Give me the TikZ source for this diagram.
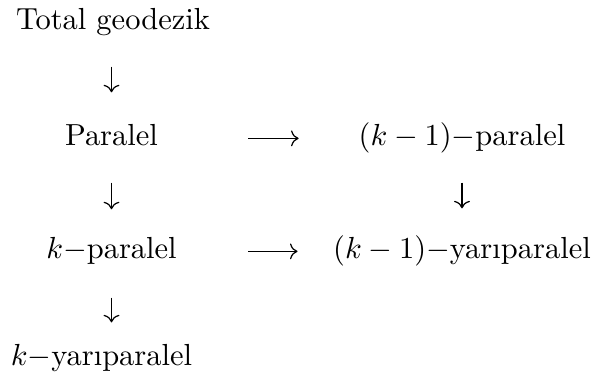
\documentclass[tikz,border=0pt]{standalone}
\usepackage{tikz}
\usetikzlibrary{arrows.meta}

\begin{document}
\begin{tikzpicture}[
    x=0.328pt, y=-0.328pt,
    >={Computer Modern Rightarrow},
    term/.style={anchor=base, inner sep=0pt, text height=7pt, text depth=2pt},
    arr/.style={->, line width=0.4pt},
]
    \useasboundingbox (0,0) rectangle (596,387);
    % left column
    \node[term] (tg) at (113,30) {Total geodezik};
    \node[term] (par) at (111.5,146) {Paralel};
    \node[term] (kpar) at (111.5,259) {$k-$paralel};
    \node[term] (kyp) at (101.5,366) {$k-$yar\i paralel};
    % right column
    \node[term] (kmpar) at (462,146) {$(k-1)-$paralel};
    \node[term] (kmyp) at (462,259) {$(k-1)-$yar\i paralel};

    \draw[arr, shorten <=9.8pt, shorten >=10.4pt] (tg.south -| par.north) -- (par.north);
    \draw[arr, shorten <=9.8pt, shorten >=9.1pt] (par.south) -- (par.south |- kpar.north);
    \draw[arr, shorten <=10.5pt, shorten >=7.1pt] (kpar.south) -- (kpar.south |- kyp.north);
    \draw[arr, shorten <=9.8pt, shorten >=9.4pt] (kmpar.south) -- (kmyp.north);

    \draw[arr, shorten <=29.5pt, shorten >=19.5pt] ([yshift=2.5pt]par.base east) -- ([yshift=2.5pt]kmpar.base west);
    \draw[arr, shorten <=23.3pt, shorten >=11.5pt] ([yshift=2.5pt]kpar.base east) -- ([yshift=2.5pt]kmyp.base west);
\end{tikzpicture}
\end{document}
